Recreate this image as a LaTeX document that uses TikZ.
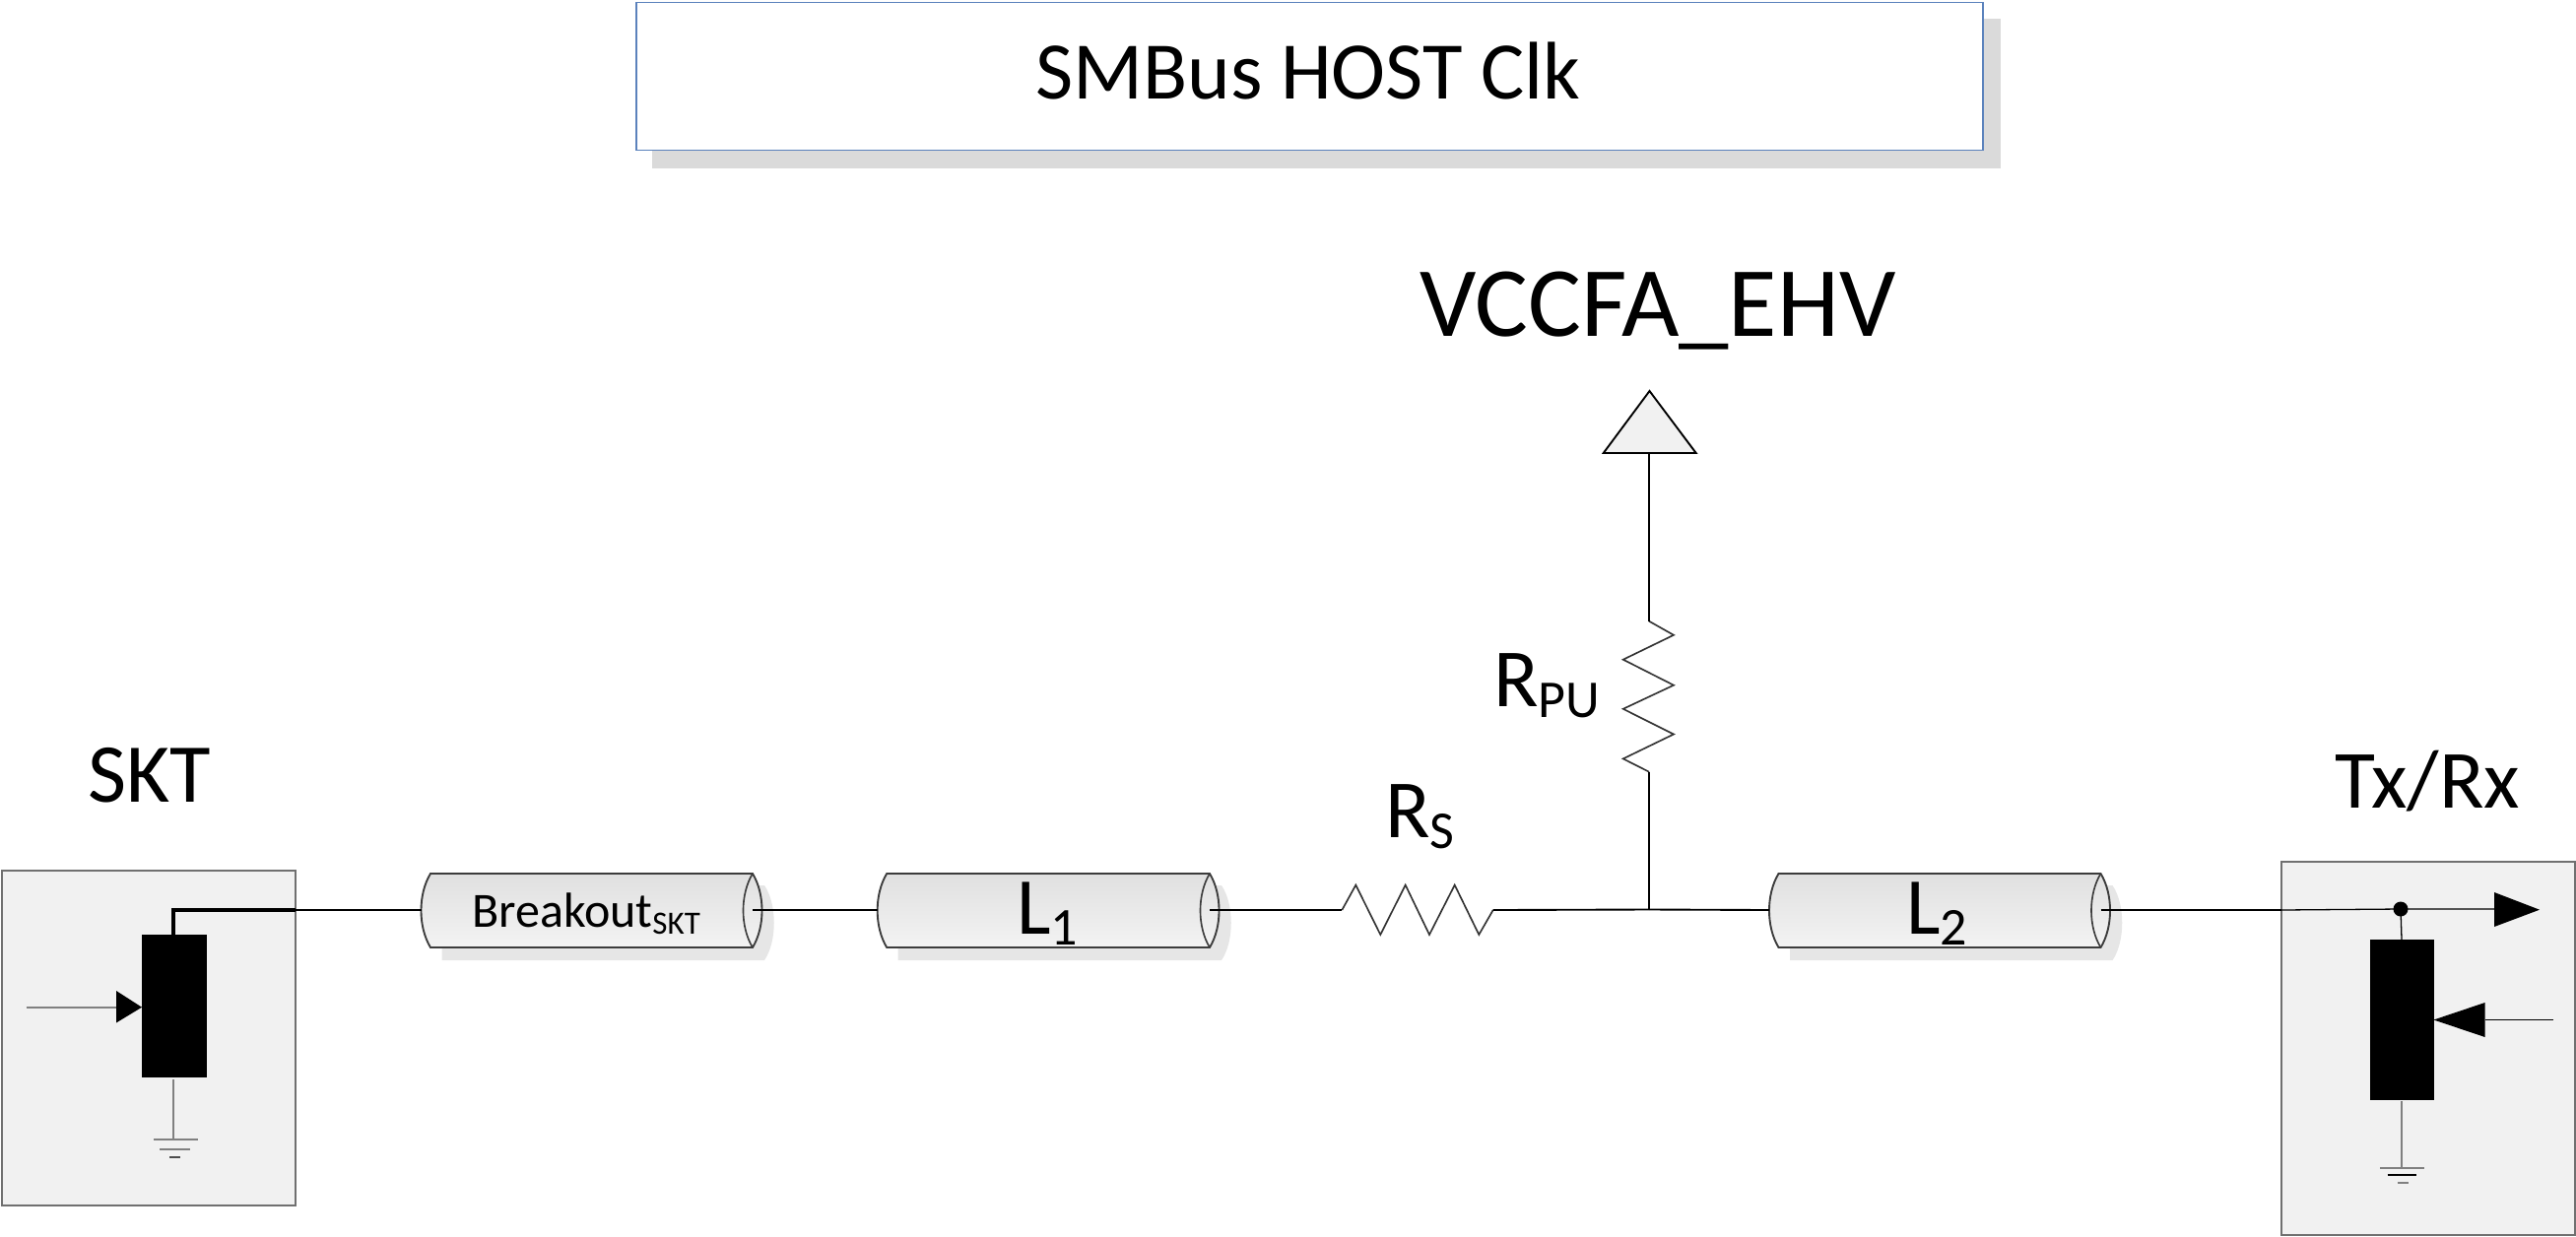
\documentclass[tikz,border=0pt]{standalone}
\usepackage{fontspec}
\setmainfont{Carlito}
\definecolor{boxfill}{HTML}{F1F1F1}
\definecolor{boxline}{HTML}{707070}
\definecolor{cylline}{HTML}{3C3C3C}
\definecolor{cyltop}{HTML}{E0E0E0}
\definecolor{cylbot}{HTML}{F3F3F3}
\definecolor{titleline}{HTML}{5B82BC}
\definecolor{titleshadow}{HTML}{DADADA}
\definecolor{cylshadow}{HTML}{E6E6E6}
\definecolor{gndline}{HTML}{808080}
\newcommand{\pxfont}[1]{\fontsize{\dimexpr#1\dimexpr 0.8536pt\relax\relax}{\dimexpr#1\dimexpr 1pt\relax\relax}\selectfont}
\newcommand{\lowsub}[3]{{\pxfont{#1}\raisebox{-#2pt}{#3}}}
\tikzset{
  wire/.style={draw=black,line width=1.6pt},
  thinwire/.style={draw=black,line width=1.1pt},
  heavywire/.style={draw=black,line width=3pt},
  resistor/.style={draw=black!80,line width=1.4pt,line join=miter},
  gnd/.style={draw=gndline,line width=1.4pt},
  panel/.style={draw=boxline,line width=1.4pt,fill=boxfill,inner sep=0pt,anchor=north west},
  solidbar/.style={draw=none,fill=black,inner sep=0pt,anchor=north west},
  label/.style={inner sep=0pt,anchor=base west,text=black},
  cylbody/.style={draw=cylline,line width=1.6pt,top color=cyltop,bottom color=cylbot,shading angle=0},
  cylend/.style={draw=cylline,line width=1.4pt},
  headfill/.style={draw=none,fill=black},
}
\newcommand{\cyl}[3]{% name, left bulge x, right top x
  \fill[cylshadow] ({#2+21},899) -- ({#3+12},899)
     .. controls ({#3+25},918) and ({#3+25},956) .. ({#3+12},975)
     -- ({#2+21},975) -- cycle;
  \path[cylbody] ({#2+9.5},887) -- (#3,887)
     .. controls ({#3+12.7},908) and ({#3+12.7},941) .. (#3,962)
     -- ({#2+9.5},962)
     .. controls ({#2-3.2},941) and ({#2-3.2},908) .. ({#2+9.5},887) -- cycle;
  \draw[cylend] (#3,887) .. controls ({#3-12.7},908) and ({#3-12.7},941) .. (#3,962);
  \coordinate (#1L) at (#2,924);
  \coordinate (#1R) at (#3,924);
}
\begin{document}
\begin{tikzpicture}[x=0.03cm,y=-0.03cm]
\useasboundingbox (0,0) rectangle (2615,1255);

% title
\fill[titleshadow] (662,19) rectangle (2031,171);
\node[draw=titleline,line width=1.6pt,fill=white,inner sep=0pt,anchor=north west,
      minimum width=1367*0.03cm,minimum height=150*0.03cm] (title) at (645,1.5) {};
\node[label] (titletext) at (1051,100) {\pxfont{83}SMBus HOST Clk};

% panels
\node[panel,minimum width=298*0.03cm,minimum height=340*0.03cm] (sktbox) at (1,883) {};
\node[panel,minimum width=298*0.03cm,minimum height=379*0.03cm] (trxbox) at (2315,874) {};

% labels
\node[label] (vcc) at (1441,341) {\pxfont{101}VCCFA\_EHV};
\node[label] (skt) at (89,814) {\pxfont{85}SKT};
\node[label] (trx) at (2370,820) {\pxfont{84}Tx/Rx};
\node[label] (rpu) at (1516,717) {\pxfont{84}R\lowsub{54}{9.5}{PU}};
\node[label] (rs) at (1406,850) {\pxfont{84}R\lowsub{54}{10}{S}};

% cylinders
\cyl{br}{427.5}{764}
\cyl{la}{890.7}{1228}
\cyl{lb}{1796}{2132.5}
\node[label] (brtext) at (479,941) {\pxfont{50}Breakout\lowsub{33}{6}{SKT}};
\node[label] (latext) at (1032,948) {\pxfont{82}L\lowsub{54}{9.5}{1}};
\node[label] (lbtext) at (1935,948) {\pxfont{82}L\lowsub{54}{9.5}{2}};

% resistors
\coordinate (rsL) at (1362.3,924);
\coordinate (rsR) at (1515.7,924);
\draw[resistor] (rsL) -- (1376.3,898.6) -- (1401.3,949) -- (1426.7,898.6) -- (1451,949)
   -- (1476.7,898.6) -- (1501.3,949) -- (rsR);
\coordinate (puT) at (1674,630.7);
\coordinate (puB) at (1674,783.7);
\draw[resistor] (puT) -- (1699,644.8) -- (1647.7,669.7) -- (1699,695.7) -- (1647.7,719.8)
   -- (1699,745.5) -- (1647.7,770.4) -- (puB);

% supply triangle
\coordinate (tribase) at (1674,460);
\draw[draw=black,line width=1.6pt,fill=boxfill,line join=miter] (1674.5,397) -- (1721.7,460) -- (1627.7,460) -- cycle;

% junction
\coordinate (junc) at (1674,923.5);

% wires
\draw[wire] (tribase) -- (puT);
\draw[wire] (puB) -- (junc);
\draw[wire] (rsR) -- (junc);
\draw[wire] (junc) -- (lbL);
\draw[wire] (brR) -- (laL);
\draw[wire] (laR) -- (rsL);

% SKT side
\node[solidbar,minimum width=66*0.03cm,minimum height=145*0.03cm] (sktbar) at (144,949) {};
\coordinate (sktpin) at (176,949);
\coordinate (sktout) at (299.5,924);
\draw[heavywire,line join=miter] (sktpin) -- (176,924) -- (sktout);
\draw[wire] (sktout) -- (brL);
\coordinate (sktin) at (26.5,1022.7);
\coordinate (sktarrow) at (118,1022.7);
\draw[draw=gndline,line width=1.4pt] (sktin) -- (sktarrow);
\fill[headfill] (118,1006) -- (144,1022.7) -- (118,1038.5) -- cycle;
\coordinate (sktg) at (176,1157);
\draw[gnd] (176,1096) -- (sktg);
\draw[gnd] (156,1157) -- (201,1157);
\draw[gnd] (162,1167) -- (193,1167);
\draw[draw=black!70,line width=1.4pt] (172,1175) -- (183,1175);

% Tx/Rx side
\node[solidbar,minimum width=65*0.03cm,minimum height=163*0.03cm] (trxbar) at (2405.5,954) {};
\coordinate (trxin) at (2315.6,924);
\draw[heavywire,line width=2.4pt] (lbR) -- (trxin);
\coordinate (dot) at (2437,923);
\coordinate (trxarrow) at (2532,923);
\draw[thinwire] (trxin) -- (dot) -- (trxarrow);
\draw[thinwire] (dot) -- (2438,954);
\fill[black] (dot) circle (7.5);
\fill[headfill] (2532,906) -- (2578,923.7) -- (2532,941) -- cycle;
\coordinate (trxctl) at (2592,1035.5);
\coordinate (trxctlb) at (2522.5,1035.5);
\draw[thinwire] (trxctl) -- (trxctlb);
\fill[headfill] (2522.5,1018) -- (2470.5,1035.5) -- (2522.5,1053) -- cycle;
\coordinate (trxg) at (2438,1186);
\draw[gnd] (2438,1118) -- (trxg);
\draw[gnd] (2416,1186) -- (2460.6,1186);
\draw[draw=black,line width=1.4pt] (2423.7,1193) -- (2453,1193);
\draw[gnd] (2433.6,1201) -- (2445,1201);
\end{tikzpicture}
\end{document}
